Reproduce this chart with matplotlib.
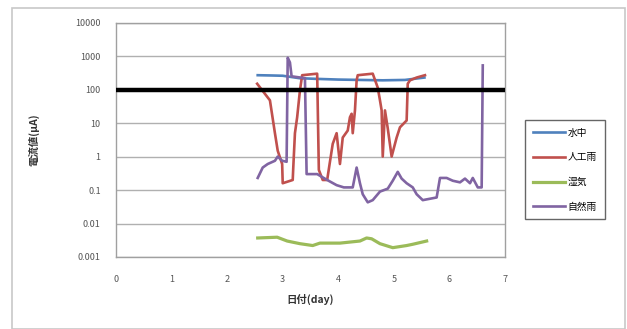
import numpy as np
import matplotlib
matplotlib.use('Agg')
import matplotlib.pyplot as plt
from matplotlib.patches import Rectangle

plt.rcParams['font.family'] = ['Noto Sans CJK JP', 'DejaVu Sans']

# series (x in days, y in uA)
water_x = [2.55, 2.8, 3.0, 3.3, 3.6, 4.0, 4.4, 4.8, 5.2, 5.55]
water_y = [270, 265, 260, 220, 210, 200, 195, 190, 195, 230]

rain_art_x = [2.54, 2.77, 2.86, 2.91, 2.99, 3.0, 3.18, 3.19, 3.22, 3.26, 3.31, 3.35,
              3.62, 3.65, 3.72, 3.8, 3.85, 3.9, 3.97, 4.03, 4.08, 4.17, 4.21, 4.24,
              4.26, 4.30, 4.33, 4.35, 4.62, 4.71, 4.75, 4.78, 4.80, 4.84, 4.89, 4.96,
              5.02, 5.05, 5.11, 5.23, 5.25, 5.29, 5.41, 5.56]
rain_art_y = [150, 48, 5, 1.5, 0.6, 0.16, 0.2, 0.47, 5, 15, 95, 270,
              300, 0.4, 0.2, 0.2, 0.7, 2.4, 5, 0.6, 3.7, 6, 15, 19,
              5, 24, 190, 270, 300, 115, 48, 24, 1.0, 24, 7, 1.0,
              2.4, 3.7, 7.5, 12, 150, 190, 230, 270]

mist_x = [2.55, 2.9, 3.08, 3.31, 3.54, 3.67, 4.03, 4.39, 4.51, 4.6, 4.75, 4.98, 5.23, 5.34, 5.59]
mist_y = [0.0037, 0.0039, 0.003, 0.0025, 0.0022, 0.0026, 0.0026, 0.003, 0.0037, 0.0035,
          0.0025, 0.0019, 0.0022, 0.0024, 0.003]

rain_nat_x = [2.55, 2.64, 2.73, 2.86, 2.91, 2.99, 3.07, 3.09, 3.13, 3.16, 3.4, 3.43,
              3.62, 3.8, 3.97, 4.1, 4.26, 4.33, 4.39, 4.44, 4.53, 4.62, 4.75, 4.89,
              4.98, 5.07, 5.14, 5.23, 5.34, 5.41, 5.52, 5.65, 5.77, 5.83, 5.95, 6.06,
              6.19, 6.28, 6.37, 6.42, 6.51, 6.58, 6.6]
rain_nat_y = [0.23, 0.47, 0.6, 0.75, 1.0, 0.75, 0.7, 900, 650, 250, 220, 0.3,
              0.3, 0.2, 0.14, 0.12, 0.12, 0.47, 0.16, 0.075, 0.043, 0.05, 0.09, 0.11,
              0.19, 0.35, 0.22, 0.16, 0.12, 0.075, 0.05, 0.055, 0.06, 0.23, 0.23, 0.19,
              0.17, 0.22, 0.16, 0.23, 0.12, 0.12, 530]

labels = ['水中', '人工雨', '湿気', '自然雨']
colors = ['#4F81BD', '#C0504D', '#9BBB59', '#8064A2']

x_ticks = list(range(0, 8))
y_ticks = [0.001, 0.01, 0.1, 1, 10, 100, 1000, 10000]
y_tick_labels = ['0.001', '0.01', '0.1', '1', '10', '100', '1000', '10000']
threshold = 100

fig = plt.figure(figsize=(6.27, 3.29), dpi=100)
fig.patches.append(Rectangle((12 / 627, 0), 613 / 627, 321 / 329, transform=fig.transFigure,
                             fill=False, edgecolor='#c8c8c8', linewidth=1.2))

ax = fig.add_axes([116 / 627, 1 - 257 / 329, 389 / 627, (257 - 22.7) / 329])
ax.set_yscale('log')
ax.set_xlim(0, 7)
ax.set_ylim(0.001, 10000)

series = [(water_x, water_y), (rain_art_x, rain_art_y), (mist_x, mist_y), (rain_nat_x, rain_nat_y)]
for (xs, ys), lab, col in zip(series, labels, colors):
    lw = 2.3 if lab == '湿気' else 1.9
    ax.plot(xs, ys, color=col, linewidth=lw, label=lab, solid_joinstyle='round')

ax.axhline(threshold, color='black', linewidth=3.2, zorder=5)

ax.set_xticks(x_ticks)
ax.set_yticks(y_ticks)
ax.set_yticklabels(y_tick_labels)
ax.minorticks_off()
ax.tick_params(axis='both', length=0, labelsize=6.5, colors='#555555')
ax.tick_params(axis='x', pad=13)
ax.tick_params(axis='y', pad=11)
ax.grid(axis='y', color='#b0b0b0', linewidth=1.0)
for s in ax.spines.values():
    s.set_color('#a0a0a0')
    s.set_linewidth(1.0)

ax.set_xlabel('日付(day)', fontsize=7.5, fontweight='bold', color='#333333', labelpad=7)
ax.set_ylabel('電流値(μA)', fontsize=7.5, fontweight='bold', color='#333333', labelpad=26)

leg = fig.legend(loc='upper left', bbox_to_anchor=(525 / 627, 1 - 120 / 329),
                 fontsize=7, frameon=True, fancybox=False, edgecolor='#404040',
                 handlelength=3.3, handletextpad=0.3, labelspacing=1.5,
                 borderpad=0.8, borderaxespad=0)
leg.get_frame().set_linewidth(1.0)

fig.savefig('out.png', dpi=100)
